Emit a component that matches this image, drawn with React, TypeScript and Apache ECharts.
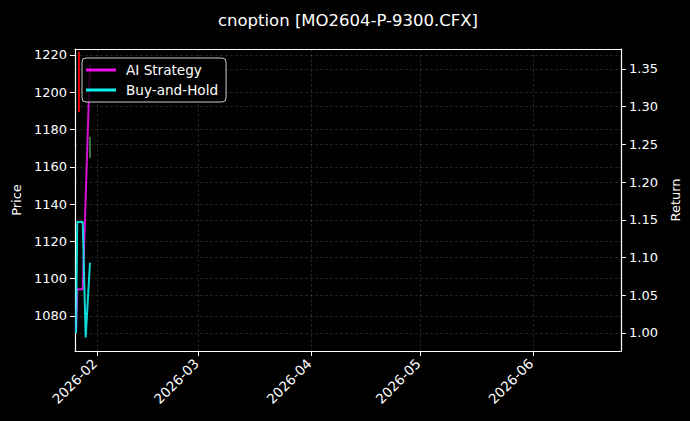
import * as echarts from 'echarts';
import { useEffect, useRef } from 'react';
import type { ECharts } from 'echarts';

// candles (open, close, low, high) at the bar times
const candleTimes = ['2026-01-27T02:30:00Z', '2026-01-30T03:00:00Z'];
const candleOpen = [1189.4, 1176.0];
const candleClose = [1221.6, 1164.8];
const candleLow = [1189.4, 1164.8];
const candleHigh = [1221.6, 1176.0];

// cumulative return lines
const aiTimes = ['2026-01-26T06:40:00Z', '2026-01-26T15:00:00Z', '2026-01-28T03:00:00Z', '2026-01-30T03:00:00Z'];
const aiReturn = [1.0, 1.058, 1.058, 1.358];
const bhTimes = [
  '2026-01-26T06:40:00Z',
  '2026-01-26T15:00:00Z',
  '2026-01-28T03:00:00Z',
  '2026-01-28T22:30:00Z',
  '2026-01-30T03:00:00Z',
];
const bhReturn = [1.0, 1.147, 1.147, 0.994, 1.093];

// axis ticks
const priceTicks = [1080, 1100, 1120, 1140, 1160, 1180, 1200, 1220];
const returnTicks = [1.0, 1.05, 1.1, 1.15, 1.2, 1.25, 1.3, 1.35];
const monthTicks = ['2026-02-01T00:00:00Z', '2026-03-01T00:00:00Z', '2026-04-01T00:00:00Z', '2026-05-01T00:00:00Z', '2026-06-01T00:00:00Z'];

const FONT = 'DejaVu Sans';
const gridLine = { show: true, lineStyle: { color: 'rgba(255,255,255,0.16)', width: 0.8, type: [3, 2] } };
const axisLine = { show: true, lineStyle: { color: '#ffffff', width: 1.2 } };
const axisTick = { show: true, length: 5, lineStyle: { color: '#ffffff', width: 1 } };

const ts = (s: string) => new Date(s).getTime();

const App = () => {
  const chartRef = useRef<HTMLDivElement>(null);

  useEffect(() => {
    document.body.style.margin = '0';
    document.body.style.background = '#000';
    let chart: ECharts | null = null;
    if (chartRef.current !== null) {
      chart = echarts.init(chartRef.current, null, { renderer: 'svg' });
    }

    const monthValues = monthTicks.map(ts);
    const xMin = ts('2026-01-26T00:00:00Z');
    const xMax = ts('2026-06-25T06:00:00Z');

    const options = {
      animation: false,
      backgroundColor: '#000000',
      textStyle: { fontFamily: FONT, color: '#ffffff' },
      title: {
        text: 'cnoption [MO2604-P-9300.CFX]',
        left: 343,
        textAlign: 'center',
        top: 7,
        textStyle: { color: '#ffffff', fontSize: 16.5, fontWeight: 'normal', fontFamily: FONT },
      },
      legend: {
        left: 82,
        top: 58,
        orient: 'vertical',
        data: ['AI Strategy', 'Buy-and-Hold'],
        icon: 'rect',
        itemWidth: 30,
        itemHeight: 3,
        itemGap: 6,
        padding: [5, 8, 5, 4],
        backgroundColor: 'rgba(0,0,0,0.8)',
        borderColor: '#cccccc',
        borderWidth: 1,
        borderRadius: 4,
        textStyle: { color: '#ffffff', fontSize: 13.6, fontFamily: FONT, padding: [0, 0, 0, 5] },
      },
      grid: { left: 75, right: 69, top: 49, bottom: 70 },
      xAxis: [
        {
          // timestamps on a value axis so the month ticks can be placed exactly
          type: 'value',
          min: xMin,
          max: xMax,
          axisLine,
          axisTick: { ...axisTick, customValues: monthValues },
          splitLine: gridLine,
          axisLabel: {
            customValues: monthValues,
            rotate: 45,
            color: '#ffffff',
            fontSize: 13.6,
            fontFamily: FONT,
            margin: 8,
            padding: [0, 3, 0, 0],
            formatter: (v: number) => {
              const d = new Date(v);
              return `${d.getUTCFullYear()}-${String(d.getUTCMonth() + 1).padStart(2, '0')}`;
            },
          },
        },
        {
          // top spine only
          type: 'value',
          position: 'top',
          min: xMin,
          max: xMax,
          axisLine,
          axisTick: { show: false },
          axisLabel: { show: false },
          splitLine: { show: false },
        },
      ],
      yAxis: [
        {
          type: 'value',
          min: 1061.2,
          max: 1223.2,
          name: 'Price',
          nameLocation: 'middle',
          nameRotate: 90,
          nameGap: 50,
          nameTextStyle: { color: '#ffffff', fontSize: 13, fontFamily: FONT },
          axisLine,
          axisTick: { ...axisTick, customValues: priceTicks },
          splitLine: gridLine,
          axisLabel: {
            customValues: priceTicks,
            color: '#ffffff',
            fontSize: 13,
            fontFamily: FONT,
            margin: 8,
            formatter: (v: number) => String(v),
          },
        },
        {
          type: 'value',
          min: 0.976,
          max: 1.3765,
          position: 'right',
          name: 'Return',
          nameLocation: 'middle',
          nameRotate: 90,
          nameGap: 42,
          nameTextStyle: { color: '#ffffff', fontSize: 13, fontFamily: FONT },
          axisLine,
          axisTick: { ...axisTick, customValues: returnTicks },
          splitLine: gridLine,
          axisLabel: {
            customValues: returnTicks,
            color: '#ffffff',
            fontSize: 13,
            fontFamily: FONT,
            margin: 8,
            formatter: (v: number) => v.toFixed(2),
          },
        },
      ],
      series: [
        {
          name: 'Price',
          type: 'candlestick',
          yAxisIndex: 0,
          barWidth: 2,
          data: candleTimes.map((t, i) => [ts(t), candleOpen[i], candleClose[i], candleLow[i], candleHigh[i]]),
          itemStyle: {
            color: '#e00000',
            borderColor: '#e00000',
            color0: '#3d6e3d',
            borderColor0: '#3d6e3d',
          },
        },
        {
          name: 'AI Strategy',
          type: 'line',
          yAxisIndex: 1,
          showSymbol: false,
          color: '#ee11ee',
          lineStyle: { width: 2, color: '#ee11ee', opacity: 0.9 },
          data: aiTimes.map((t, i) => [ts(t), aiReturn[i]]),
        },
        {
          name: 'Buy-and-Hold',
          type: 'line',
          yAxisIndex: 1,
          showSymbol: false,
          color: '#11eeee',
          lineStyle: { width: 2, color: '#11eeee', opacity: 0.9 },
          data: bhTimes.map((t, i) => [ts(t), bhReturn[i]]),
        },
      ],
    };

    chart?.setOption(options);

    return () => {
      chart?.dispose();
      chart = null;
    };
  }, []);

  return <div ref={chartRef} style={{ width: 690, height: 421 }}></div>;
};

export default App;
